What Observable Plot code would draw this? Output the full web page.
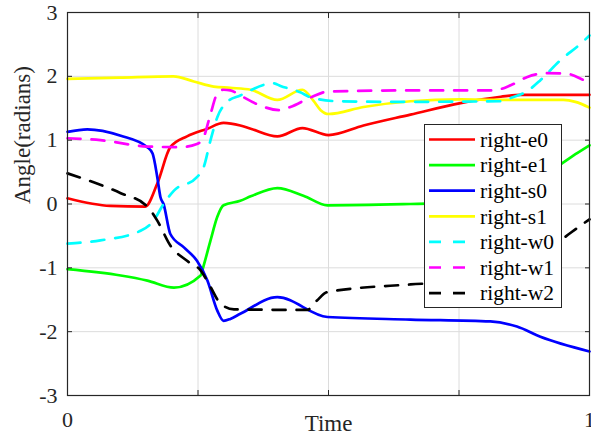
<!DOCTYPE html>
<html><head><meta charset="utf-8">
<script src="https://cdn.jsdelivr.net/npm/d3@7"></script>
<script src="https://cdn.jsdelivr.net/npm/@observablehq/plot@0.6"></script>
<style>
body{margin:0;background:#fff}
#wrap{position:relative;width:591px;height:438px;font-family:"Liberation Serif",serif}
#wrap svg text{font-family:"Liberation Serif",serif !important}
#legend{position:absolute;left:424px;top:124px}
</style>
</head><body><div id="wrap"></div>
<script>
// ---- data (time fraction, angle in radians) ----
const seriesNames = ["right-e0","right-e1","right-s0","right-s1","right-w0","right-w1","right-w2"];

const rightE0 = [[0,0.09],[0.082,-0.03],[0.149,-0.04],[0.172,0.32],[0.197,0.89],[0.229,1.06],[0.268,1.18],[0.299,1.27],[0.331,1.23],[0.351,1.18],[0.402,1.06],[0.450,1.19],[0.5,1.08],[0.567,1.23],[0.657,1.40],[0.753,1.58],[0.83,1.68],[0.868,1.71],[1,1.71]];
const rightE1 = [[0,-1.02],[0.102,-1.12],[0.153,-1.20],[0.204,-1.31],[0.255,-1.12],[0.261,-0.96],[0.274,-0.57],[0.287,-0.2],[0.299,-0.02],[0.331,0.05],[0.351,0.12],[0.402,0.25],[0.452,0.13],[0.498,-0.02],[0.657,0.0],[0.791,0.03],[0.83,0.1],[0.868,0.25],[0.906,0.43],[0.946,0.63],[0.973,0.78],[1,0.92]];
const rightS0 = [[0,1.13],[0.038,1.17],[0.102,1.07],[0.153,0.89],[0.163,0.79],[0.172,0.42],[0.178,0.11],[0.184,0.0],[0.197,-0.47],[0.223,-0.68],[0.248,-0.89],[0.268,-1.20],[0.287,-1.67],[0.299,-1.83],[0.312,-1.80],[0.331,-1.72],[0.402,-1.46],[0.498,-1.77],[0.657,-1.81],[0.810,-1.84],[0.861,-1.92],[0.906,-2.08],[1,-2.31]];
const rightS1 = [[0,1.96],[0.1,1.98],[0.203,2.0],[0.242,1.92],[0.280,1.84],[0.312,1.82],[0.351,1.79],[0.402,1.63],[0.450,1.79],[0.471,1.62],[0.485,1.47],[0.5,1.41],[0.567,1.52],[0.657,1.61],[0.753,1.64],[0.830,1.63],[0.95,1.63],[0.973,1.6],[1,1.51]];
const rightW0 = [[0,-0.62],[0.063,-0.57],[0.140,-0.42],[0.165,-0.26],[0.184,0.0],[0.204,0.21],[0.248,0.42],[0.261,0.58],[0.274,1.0],[0.287,1.36],[0.306,1.60],[0.331,1.70],[0.383,1.88],[0.395,1.89],[0.408,1.85],[0.446,1.75],[0.466,1.67],[0.517,1.61],[0.632,1.60],[0.830,1.61],[0.849,1.66],[0.881,1.77],[0.906,1.94],[0.944,2.25],[0.983,2.51],[1,2.64]];
const rightW1 = [[0,1.03],[0.063,1.0],[0.153,0.90],[0.216,0.89],[0.248,0.94],[0.261,1.05],[0.274,1.41],[0.287,1.73],[0.299,1.79],[0.312,1.78],[0.331,1.70],[0.370,1.54],[0.405,1.47],[0.427,1.52],[0.466,1.67],[0.498,1.76],[0.657,1.78],[0.816,1.78],[0.849,1.86],[0.881,1.99],[0.919,2.05],[0.957,2.04],[0.989,1.94],[1,1.9]];
const rightW2 = [[0,0.48],[0.050,0.34],[0.102,0.17],[0.153,-0.04],[0.172,-0.26],[0.197,-0.65],[0.229,-0.89],[0.255,-1.04],[0.274,-1.30],[0.293,-1.56],[0.319,-1.65],[0.459,-1.66],[0.478,-1.51],[0.498,-1.38],[0.657,-1.26],[0.734,-1.22],[0.830,-1.10],[0.9,-0.85],[0.964,-0.45],[1,-0.24]];

const seriesValues = [rightE0,rightE1,rightS0,rightS1,rightW0,rightW1,rightW2];

const xTicks = [0,0.25,0.5,0.75,1];
const xTickLabels = ["0","","","","1"];
const yTicks = [-3,-2,-1,0,1,2,3];
const yTickLabels = ["-3","-2","-1","0","1","2","3"];
const xGrid = [0.25,0.5,0.75];
const yGrid = [-2,-1,0,1,2];
const xLabel = "Time";
const yLabel = "Angle(radians)";

// ---- styles ----
const colors = ["#ff0000","#00ff00","#0000ff","#ffff00","#00ffff","#ff00ff","#000000"];
const dashes = [null,null,null,null,"13,11","13,11","13,11"];
const font = "Liberation Serif";
const ink = "#262626";

const rows = seriesValues.map((s,i)=>s.map(([t,v])=>({name:seriesNames[i],t,v})));

const lineMarks = rows.map((r,i)=>Plot.line(r,{x:"t",y:"v",stroke:colors[i],strokeWidth:2.7,
  strokeDasharray:dashes[i]||undefined,curve:"monotone-x"}));

const chart = Plot.plot({
  width:591, height:438,
  marginLeft:67, marginRight:2, marginTop:12, marginBottom:43,
  x:{domain:[0,1]},
  y:{domain:[-3,3]},
  style:{fontFamily:font, background:"white", color:ink},
  marks:[
    Plot.gridX(xGrid,{stroke:"#dcdcdc",strokeOpacity:1,strokeWidth:1}),
    Plot.gridY(yGrid,{stroke:"#dcdcdc",strokeOpacity:1,strokeWidth:1}),
    ...lineMarks,
    Plot.frame({stroke:ink,strokeWidth:1.2}),
    Plot.axisX(xTicks,{anchor:"bottom",tickSize:0,tickPadding:16,fontSize:22,fontFamily:font,fill:ink,
      tickFormat:d=>xTickLabels[xTicks.indexOf(d)],label:null}),
    Plot.axisX(xTicks,{anchor:"bottom",tickSize:-5,tickFormat:()=>"",label:null,stroke:ink}),
    Plot.axisX(xTicks,{anchor:"top",tickSize:-5,tickFormat:()=>"",label:null,stroke:ink}),
    Plot.axisY(yTicks,{anchor:"left",tickSize:0,tickPadding:10,fontSize:22,fontFamily:font,fill:ink,
      tickFormat:d=>yTickLabels[yTicks.indexOf(d)],label:null}),
    Plot.axisY(yTicks,{anchor:"left",tickSize:-5,tickFormat:()=>"",label:null,stroke:ink}),
    Plot.axisY(yTicks,{anchor:"right",tickSize:-5,tickFormat:()=>"",label:null,stroke:ink}),
    Plot.text([xLabel],{frameAnchor:"bottom",dy:28.5,fontSize:23,fontFamily:font,lineAnchor:"middle",fill:ink}),
    Plot.text([yLabel],{frameAnchor:"left",dx:-45,rotate:-90,fontSize:23,fontFamily:font,lineAnchor:"middle",fill:ink})
  ]
});
const wrap = document.getElementById("wrap");
wrap.appendChild(chart);

// ---- legend ----
const lw = 137, lh = 183, rowH = 25.6, row0 = 15.5;
const lg = d3.select(wrap).append("svg").attr("id","legend")
  .attr("width",lw+1).attr("height",lh+1);
lg.append("rect").attr("x",0.5).attr("y",0.5).attr("width",lw).attr("height",lh)
  .attr("fill","white").attr("stroke",ink).attr("stroke-width",1);
seriesNames.forEach((n,i)=>{
  const y = row0 + i*rowH;
  lg.append("line").attr("x1",5).attr("x2",51).attr("y1",y).attr("y2",y)
    .attr("stroke",colors[i]).attr("stroke-width",2.7)
    .attr("stroke-dasharray",dashes[i]?"12,12":null);
  lg.append("text").attr("x",56).attr("y",y).attr("dy","0.34em")
    .style("font-family",font).attr("font-size","21.5px").attr("fill","#000").text(n);
});
</script>
</body></html>
